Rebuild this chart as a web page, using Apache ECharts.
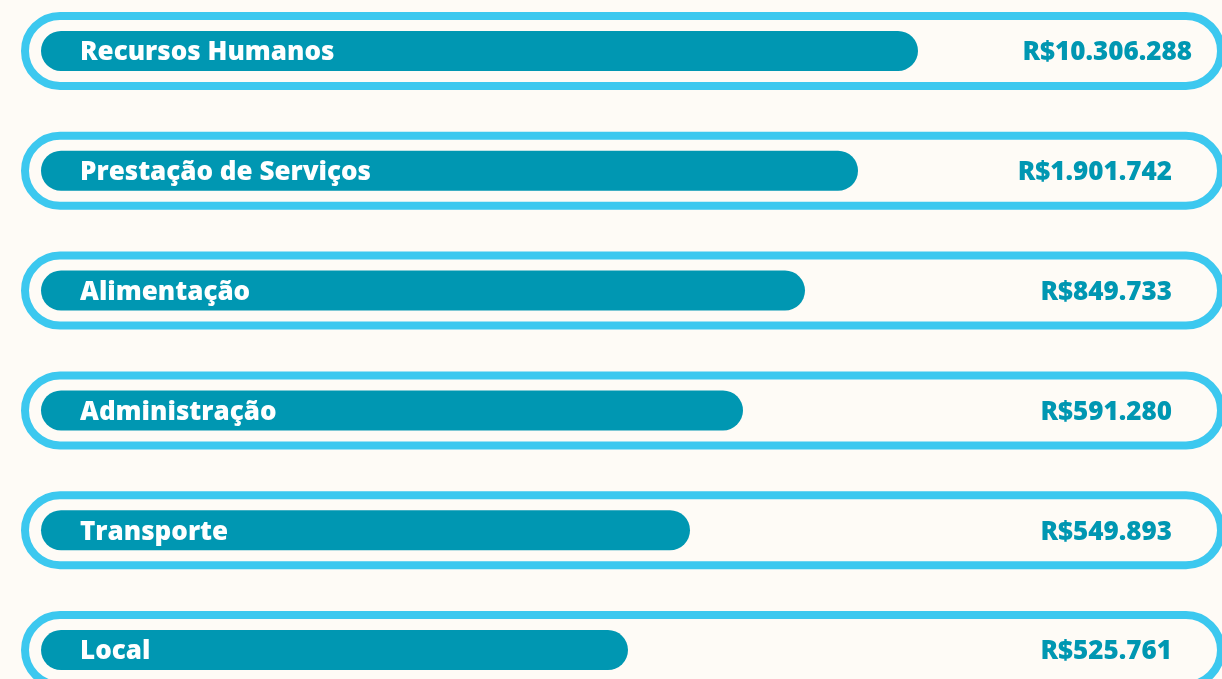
<!DOCTYPE html>
<html>
<head>
<meta charset="utf-8">
<script src="https://cdn.jsdelivr.net/npm/echarts@6/dist/echarts.min.js"></script>
<style>
html,body{margin:0;padding:0;background:#fefbf6;}
#chart{width:1222px;height:679px;}
</style>
</head>
<body>
<div id="chart"></div>
<script>
// Categories (top to bottom)
const categories = ['Recursos Humanos', 'Prestação de Serviços', 'Alimentação', 'Administração', 'Transporte', 'Local'];
// Values shown at the right (R$)
const values = [10306288, 1901742, 849733, 591280, 549893, 525761];
// Decorative fill level of each inner bar (0-100 scale)
const barFill = [87.7, 81.7, 76.4, 70.2, 64.9, 58.7];

const FONT = '"Open Sans", sans-serif';
const TEAL = '#0097b2';
const SKY = '#3cc8ef';
const BG = '#fefbf6';

function fmt(v) {
  return 'R$' + String(v).replace(/\B(?=(\d{3})+(?!\d))/g, '.');
}

const chart = echarts.init(document.getElementById('chart'), null, {renderer: 'canvas'});
chart.setOption({
  backgroundColor: BG,
  animation: false,
  grid: [
    {left: 21, right: -3, top: -9, height: 719, outerBoundsMode: 'none', containLabel: false},
    {left: 41, width: 1000, top: -9, height: 719, outerBoundsMode: 'none', containLabel: false}
  ],
  xAxis: [
    {type: 'value', gridIndex: 0, min: 0, max: 1, show: false},
    {type: 'value', gridIndex: 1, min: 0, max: 100, show: false}
  ],
  yAxis: [
    {type: 'category', gridIndex: 0, data: categories, inverse: true, show: false},
    {type: 'category', gridIndex: 1, data: categories, inverse: true, show: false}
  ],
  series: [
    {
      type: 'bar',
      xAxisIndex: 0, yAxisIndex: 0,
      barWidth: 78,
      clip: false,
      silent: true,
      data: categories.map((c, i) => ({
        value: 1,
        label: i === 0 ? {distance: 33} : {distance: 53}
      })),
      itemStyle: {color: BG, borderColor: SKY, borderWidth: 8, borderRadius: 39},
      label: {
        show: true,
        position: 'insideRight',
        offset: [0, 2],
        formatter: p => fmt(values[p.dataIndex]),
        color: TEAL,
        fontFamily: FONT,
        fontWeight: 800,
        fontSize: 26
      }
    },
    {
      type: 'bar',
      xAxisIndex: 1, yAxisIndex: 1,
      barWidth: 40,
      clip: false,
      silent: true,
      data: barFill,
      itemStyle: {color: TEAL, borderRadius: 20},
      label: {
        show: true,
        position: 'insideLeft',
        distance: 39,
        offset: [0, 2],
        formatter: p => categories[p.dataIndex],
        color: '#ffffff',
        fontFamily: FONT,
        fontWeight: 800,
        fontSize: 26
      }
    }
  ]
});
</script>
</body>
</html>
